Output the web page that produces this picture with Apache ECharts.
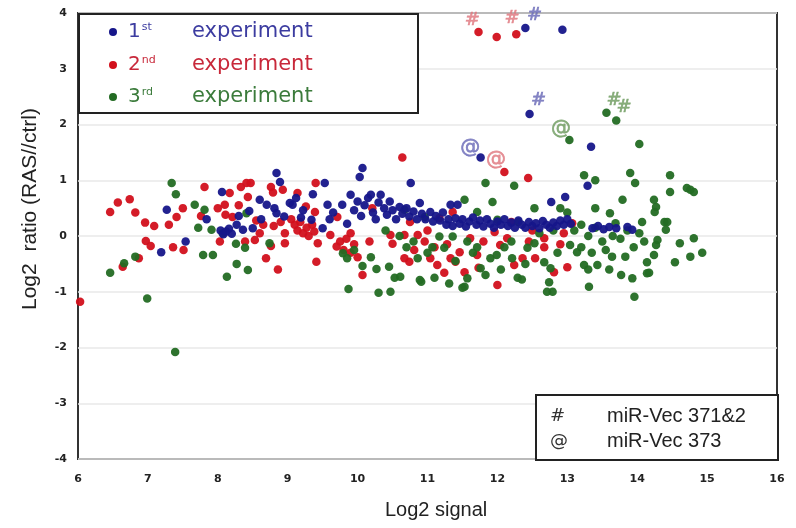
<!DOCTYPE html>
<html>
<head>
<meta charset="utf-8">
<script src="https://cdn.jsdelivr.net/npm/echarts@6/dist/echarts.min.js"></script>
<style>
  html, body { margin: 0; padding: 0; background: #fff; }
  #chart { width: 796px; height: 528px; }
</style>
</head>
<body>
<div id="chart"></div>
<script>
// 1st experiment (blue)
var exp1Points = [
  [12.4,3.73],[12.93,3.7],[12.46,2.19],[11.76,1.41],[13.34,1.6],[10.76,0.95],[13.29,0.9],[12.77,0.61],[12.97,0.7],
  [10.03,1.06],[10.07,1.22],[8.84,1.13],[8.89,0.97],[9.53,0.95],[9.36,0.75],[8.06,0.79],[7.27,0.47],[7.19,-0.29],
  [7.54,-0.1],[7.84,0.3],[9.9,0.74],
  [8.04,0.1],[8.08,0.03],[8.12,0.08],[8.16,0.13],[8.2,0.04],[8.27,0.2],[8.36,0.11],[8.5,0.14],[8.6,0.65],[8.7,0.56],
  [8.81,0.5],[8.84,0.41],[8.62,0.3],[8.45,0.45],[8.3,0.36],[9.03,0.59],[9.07,0.56],[9.19,0.33],[9.22,0.46],[9.34,0.29],
  [9.5,0.14],[9.57,0.56],[9.65,0.42],[9.6,0.3],[9.78,0.56],[9.85,0.22],[8.95,0.35],[9.12,0.68],
  [9.95,0.46],[10.0,0.62],[10.05,0.36],[10.1,0.55],[10.15,0.68],[10.19,0.74],[10.22,0.42],[10.26,0.3],[10.3,0.6],
  [10.33,0.74],[10.38,0.5],[10.42,0.38],[10.46,0.62],[10.5,0.46],[10.55,0.3],[10.6,0.52],[10.64,0.4],[10.7,0.5],
  [10.74,0.35],[10.8,0.44],[10.85,0.3],[10.89,0.59],[10.92,0.4],[10.97,0.3],[11.04,0.43],[11.08,0.26],[11.12,0.36],
  [11.18,0.28],[11.22,0.42],[11.27,0.2],[11.33,0.56],[11.43,0.56],
  [11.3,0.3],[11.36,0.18],[11.4,0.32],[11.46,0.22],[11.5,0.3],[11.55,0.17],[11.6,0.26],[11.65,0.33],[11.7,0.2],
  [11.75,0.28],[11.8,0.17],[11.85,0.3],[11.9,0.22],[11.95,0.15],[12.0,0.26],[12.05,0.2],[12.1,0.3],[12.15,0.18],
  [12.2,0.24],[12.25,0.15],[12.3,0.28],[12.35,0.2],[12.4,0.15],[12.45,0.25],[12.5,0.18],[12.55,0.23],[12.6,0.14],
  [12.65,0.27],[12.7,0.2],[12.75,0.15],[12.8,0.24],[12.85,0.18],[12.9,0.28],[12.95,0.2],[13.0,0.3],[13.05,0.22],
  [13.36,0.14],[13.44,0.18],[13.52,0.12],[13.6,0.16],[13.7,0.14],[13.86,0.16],[13.93,0.11]
];

// 2nd experiment (red)
var exp2Points = [
  [11.73,3.66],[11.99,3.57],[12.27,3.62],[12.1,1.15],[12.44,1.04],[10.64,1.41],[6.03,-1.18],
  [6.46,0.43],[6.57,0.6],[6.74,0.66],[6.82,0.42],[6.96,0.24],[7.09,0.18],[7.3,0.2],[7.41,0.34],[7.5,0.5],[7.76,0.36],
  [7.81,0.88],[8.0,0.5],[8.1,0.56],[8.11,0.38],[8.17,0.77],[8.33,0.88],[6.97,-0.09],[7.04,-0.18],[7.36,-0.2],
  [7.51,-0.25],[6.64,-0.55],[6.87,-0.4],[8.03,-0.1],[8.21,0.34],[8.3,0.55],[8.41,0.95],[8.47,0.95],[8.43,0.7],
  [8.53,-0.07],[8.69,-0.4],[8.86,-0.6],[8.76,0.88],[8.79,0.78],[8.93,0.83],[9.14,0.77],[9.4,0.95],[9.26,0.53],
  [9.39,0.43],[9.71,0.34],[8.96,0.05],[8.96,-0.13],[8.39,-0.1],[8.76,-0.18],[9.41,-0.46],[9.43,-0.13],[9.7,-0.19],
  [9.61,0.02],[10.21,0.5],[10.07,-0.7],[10.17,-0.1],[9.9,0.05],[10.47,0.02],[10.5,-0.14],
  [9.05,0.3],[9.1,0.2],[9.14,0.1],[9.18,0.25],[9.22,0.05],[9.27,0.15],[9.3,0.0],[9.35,0.2],[9.38,0.08],[8.9,0.25],
  [8.8,0.18],[8.65,0.2],[8.6,0.05],[8.55,0.28],
  [9.75,-0.1],[9.8,-0.25],[9.84,-0.05],[9.9,-0.3],[9.95,-0.15],[10.0,-0.38],
  [10.67,0.02],[10.86,0.02],[10.96,-0.1],[10.81,-0.25],[10.67,-0.4],[10.74,-0.46],[11.04,-0.4],[11.14,-0.52],
  [11.24,-0.66],[11.33,-0.4],[11.46,-0.29],[11.4,-0.46],[11.53,-0.65],[11.61,-0.04],[11.71,-0.34],[11.73,-0.57],
  [11.8,-0.1],[11.96,0.07],[12.04,-0.16],[12.0,-0.88],[12.14,-0.04],[12.36,-0.4],[12.24,-0.52],[12.54,-0.4],
  [12.67,-0.04],[12.81,-0.65],[12.67,-0.2],[11.36,0.43],[11.17,0.32],[12.2,0.25],[13.07,0.23],[10.75,0.25],
  [11.0,0.1],[11.28,-0.15],[11.1,-0.2],[12.5,0.1],[12.9,-0.15],[12.95,0.05],[13.0,-0.56],[12.45,-0.1]
];

// 3rd experiment (green)
var exp3Points = [
  [13.56,2.21],[13.7,2.07],[13.03,1.72],[14.03,1.65],[11.83,0.95],[12.24,0.9],[13.24,1.09],[13.4,1.0],[13.9,1.13],
  [13.97,0.95],[14.47,1.09],[14.47,0.79],[14.71,0.86],[14.81,0.79],[14.76,0.83],
  [7.34,0.95],[7.4,0.75],[7.67,0.56],[7.81,0.47],[7.72,0.15],[7.91,0.11],[7.79,-0.34],[7.93,-0.34],[6.46,-0.66],
  [6.66,-0.49],[6.82,-0.37],[6.99,-1.12],[7.39,-2.08],[8.13,-0.73],[8.27,-0.5],[8.43,-0.61],[8.26,-0.14],[8.07,0.05],
  [8.41,0.41],[8.39,-0.21],[8.74,-0.13],
  [9.79,-0.31],[9.87,-0.95],[10.07,-0.54],[10.19,-0.38],[10.27,-0.59],[10.3,-1.02],[10.47,-1.0],[10.53,-0.75],
  [10.45,-0.55],[9.85,-0.4],[9.95,-0.25],
  [10.61,-0.73],[10.89,-0.79],[10.86,-0.4],[11.1,-0.75],[11.07,-0.2],[11.17,-0.01],[11.36,-0.01],[11.24,-0.21],
  [11.31,-0.85],[11.53,-0.91],[11.57,-0.76],[11.57,-0.1],[11.71,-0.2],[11.76,-0.58],[11.83,-0.7],[11.9,-0.4],
  [11.99,-0.34],[12.1,-0.2],[12.2,-0.1],[12.21,-0.4],[12.29,-0.75],[12.35,-0.78],[12.43,-0.21],[12.53,-0.13],
  [12.67,-0.47],[12.76,-0.58],[12.74,-0.83],[12.71,-1.0],[12.79,-1.0],[12.86,-0.3],[13.31,-0.91],[13.96,-1.09],
  [13.77,-0.7],[13.93,-0.76],[14.14,-0.67],[10.91,-0.82],[11.5,-0.93],
  [10.67,0.47],[10.96,0.34],[11.53,0.65],[11.93,0.61],[12.53,0.5],[11.71,0.43],[12.0,0.29],[12.3,0.25],[12.9,0.5],
  [13.0,0.42],[13.79,0.65],[13.4,0.5],[13.61,0.41],[14.24,0.65],[14.27,0.52],[14.25,0.43],[14.07,0.25],[14.39,0.25],
  [13.69,0.23],
  [13.04,-0.16],[13.14,-0.29],[13.24,-0.52],[13.43,-0.52],[13.2,-0.2],[13.3,0.0],[13.35,-0.3],[13.5,-0.1],
  [13.55,-0.25],[13.65,0.0],[13.64,-0.37],[13.76,-0.05],[13.83,-0.37],[13.86,0.1],[13.95,-0.2],[14.03,0.05],
  [14.1,-0.1],[13.1,0.1],[13.2,0.2],[13.4,0.15],
  [14.14,-0.47],[14.17,-0.66],[14.24,-0.34],[14.29,-0.07],[14.41,0.11],[14.43,0.25],[14.54,-0.47],[14.61,-0.13],
  [14.76,-0.37],[14.81,-0.04],[14.93,-0.3],[14.27,-0.16],
  [10.4,0.1],[10.6,0.0],[10.8,-0.1],[11.0,-0.3],[10.7,-0.2],[12.6,0.05],[12.8,0.1],[12.4,-0.5],[11.4,-0.45],
  [11.65,-0.3],[12.05,-0.6],[13.3,-0.6],[13.6,-0.6]
];

// annotation marks: [x, y, experiment index]
var hashMarks = [[11.64,3.87,1],[12.21,3.9,1],[12.53,3.96,0],[12.59,2.44,0],[13.67,2.44,2],[13.81,2.31,2]];
var atMarks = [[11.61,1.58,0],[11.98,1.36,1],[12.91,1.92,2]];

var ordinals = ['1', '2', '3'];
var suffixes = ['st', 'nd', 'rd'];
var noteSymbols = ['#', '@'];
var noteLabels = ['miR-Vec 371&2', 'miR-Vec 373'];

var dotColors = ['#16168a', '#d2101c', '#236b23'];
var textColors = ['#3c3ca0', '#c8283a', '#3b7b3b'];
var markColors = ['#6a6ab8', '#e07880', '#6f9c60'];

var chart = echarts.init(document.getElementById('chart'));

function dotSeries(name, data, idx) {
  return {
    name: name,
    type: 'scatter',
    data: data,
    symbol: 'circle',
    symbolSize: 8.5,
    itemStyle: { color: dotColors[idx], opacity: 0.95 },
    z: 3
  };
}

function markSeries(marks, sym, size) {
  return {
    type: 'scatter',
    data: marks.map(function (m) {
      return {
        value: [m[0], m[1]],
        label: { color: markColors[m[2]], textBorderColor: markColors[m[2]] }
      };
    }),
    symbolSize: 1,
    itemStyle: { color: 'rgba(0,0,0,0)' },
    label: {
      show: true,
      position: 'inside',
      formatter: sym,
      fontFamily: 'DejaVu Sans',
      fontStyle: sym === '#' ? 'italic' : 'normal',
      fontSize: size,
      textBorderWidth: 0.6
    },
    z: 5,
    silent: true
  };
}

var legendRows = [32, 65, 97];
var graphic = [
  {
    type: 'rect', left: 78, top: 13, z: 10,
    shape: { width: 339, height: 99 },
    style: { fill: '#fff', stroke: '#222', lineWidth: 2 }
  },
  {
    type: 'rect', left: 535, top: 394, z: 10,
    shape: { width: 242, height: 65 },
    style: { fill: '#fff', stroke: '#222', lineWidth: 2 }
  },
  {
    type: 'text', z: 10, left: 385, top: 500,
    style: { text: 'Log2 signal', font: '20px "Liberation Sans", Arial, sans-serif', fill: '#222' }
  },
  {
    type: 'text', z: 10, x: 20, y: 310, rotation: Math.PI / 2,
    style: { text: 'Log2  ratio (RAS//ctrl)', font: '21px "Liberation Sans", Arial, sans-serif', fill: '#222' }
  }
];
legendRows.forEach(function (y, i) {
  graphic.push({
    type: 'circle', z: 11, shape: { cx: 113, cy: y, r: 4 },
    style: { fill: dotColors[i] }
  });
  graphic.push({
    type: 'text', z: 11, x: 128, y: y,
    style: {
      text: '{n|' + ordinals[i] + '}{s|' + suffixes[i] + '}',
      verticalAlign: 'middle',
      rich: {
        n: { font: '20px "DejaVu Sans", sans-serif', fill: textColors[i], color: textColors[i] },
        s: { font: '11px "DejaVu Sans", sans-serif', fill: textColors[i], color: textColors[i], verticalAlign: 'top', padding: [0, 0, 10, 1] }
      }
    }
  });
  graphic.push({
    type: 'text', z: 11, x: 192, y: y,
    style: { text: 'experiment', font: '21px "DejaVu Sans", sans-serif', fill: textColors[i], verticalAlign: 'middle' }
  });
});
noteLabels.forEach(function (t, i) {
  var y = 416 + i * 25;
  graphic.push({
    type: 'text', z: 11, x: 550, y: y,
    style: { text: noteSymbols[i], font: (i === 0 ? 'italic ' : '') + '18px "DejaVu Sans", sans-serif', fill: '#333', verticalAlign: 'middle' }
  });
  graphic.push({
    type: 'text', z: 11, x: 607, y: y,
    style: { text: t, font: '20px "Liberation Sans", Arial, sans-serif', fill: '#222', verticalAlign: 'middle' }
  });
});

var option = {
  backgroundColor: '#fff',
  animation: false,
  grid: {
    left: 78, top: 13, right: 19, bottom: 69,
    show: true, borderColor: '#333', borderWidth: 2
  },
  xAxis: {
    type: 'value', min: 6, max: 16, interval: 1,
    axisLine: { show: false },
    axisTick: { show: false },
    splitLine: { show: false },
    axisLabel: {
      margin: 15, fontSize: 11, fontWeight: 'bold',
      fontFamily: 'DejaVu Sans', color: '#222'
    }
  },
  yAxis: {
    type: 'value', min: -4, max: 4, interval: 1,
    axisLine: { show: false },
    axisTick: { show: false },
    splitLine: { lineStyle: { color: '#e8e8e8', width: 1.5 } },
    axisLabel: {
      margin: 11, fontSize: 11, fontWeight: 'bold',
      fontFamily: 'DejaVu Sans', color: '#222'
    }
  },
  series: [
    dotSeries('2nd experiment', exp2Points, 1),
    dotSeries('3rd experiment', exp3Points, 2),
    dotSeries('1st experiment', exp1Points, 0),
    markSeries(hashMarks, '#', 18),
    markSeries(atMarks, '@', 20)
  ],
  graphic: graphic
};

chart.setOption(option);
</script>
</body>
</html>
